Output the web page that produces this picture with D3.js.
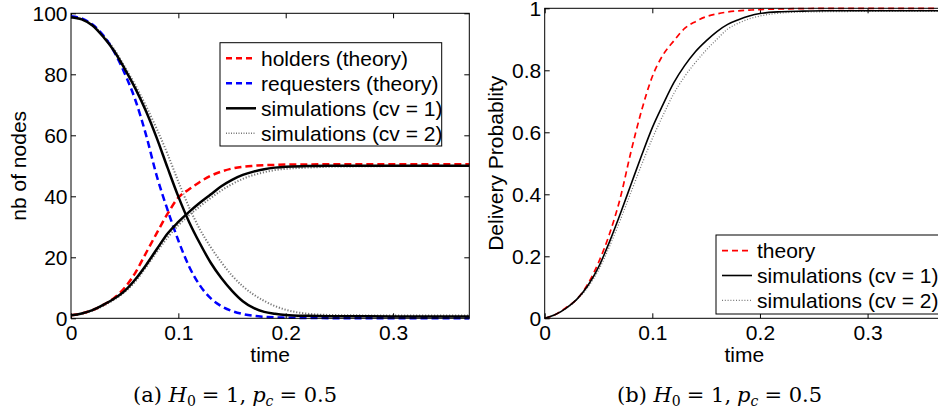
<!DOCTYPE html>
<html>
<head>
<meta charset="utf-8">
<title>holders and requesters</title>
<script src="https://cdnjs.cloudflare.com/ajax/libs/d3/7.8.5/d3.min.js"></script>
<style>
body { margin:0; background:white; }
svg { display:block; }
.tick text, .lbl { font-family:"Liberation Sans", Arial, sans-serif; font-size:21px; fill:black; }
.tick line { stroke:black; }
.cap { font-family:"DejaVu Serif", "Liberation Serif", serif; font-size:21px; fill:black; }
</style>
</head>
<body>
<div id="chart"></div>
<script>
// time grid shared by every curve
var times = [0, 0.01, 0.02, 0.03, 0.04, 0.05, 0.06, 0.07, 0.08, 0.09, 0.10, 0.11, 0.12, 0.13, 0.14,
    0.15, 0.16, 0.17, 0.18, 0.19, 0.20, 0.22, 0.24, 0.26, 0.30, 0.34, 0.371];

// (a) number of nodes
var holdersTheory = [1, 1.6, 2.7, 4.4, 6.6, 10.0, 15.0, 21.5, 28, 34.3, 39.6, 42.3, 44.7, 46.7, 48.1,
    49.1, 49.7, 50.0, 50.2, 50.3, 50.4, 50.45, 50.5, 50.5, 50.5, 50.5, 50.5];
var requestersTheory = [99, 98.3, 96.3, 92.8, 87.5, 80.3, 71.5, 60, 46.5, 35.5, 25.5, 17, 10.8, 6.6, 4.0,
    2.4, 1.4, 0.8, 0.5, 0.3, 0.2, 0.1, 0.05, 0, 0, 0, 0];
var holdersSim1 = [1, 1.6, 2.7, 4.4, 6.4, 9.0, 12.8, 17.5, 22.7, 27.8, 31.6, 34.9, 37.9, 40.6, 43.3,
    45.4, 47.0, 48.1, 48.9, 49.4, 49.7, 49.9, 50, 50, 50, 50, 50];
var requestersSim1 = [98.7, 98, 96, 92.3, 87.7, 81.8, 75.3, 67.8, 59.0, 49.3, 39.9, 31.6, 24.6, 18.3, 13.2,
    9.0, 5.6, 3.4, 2.1, 1.5, 1.1, 0.8, 0.7, 0.7, 0.6, 0.6, 0.6];
var holdersSim2 = [1, 1.5, 2.5, 4.1, 6.1, 8.6, 12.1, 16.8, 21.8, 26.5, 30.5, 33.8, 36.7, 39.4, 41.9,
    44.0, 45.7, 47.0, 47.9, 48.6, 49.0, 49.4, 49.7, 49.8, 49.9, 49.9, 49.9];
var requestersSim2 = [98.7, 98, 96.1, 92.7, 88.3, 82.5, 76.4, 69.5, 62.0, 53.8, 44.8, 36.4, 29.2, 23.4, 18.4,
    14.0, 10.5, 7.8, 5.7, 4.0, 2.8, 1.5, 1.1, 1.0, 0.9, 0.9, 0.9];

// (b) delivery probability
var probTheory = [0, 0.012, 0.035, 0.062, 0.11, 0.18, 0.27, 0.385, 0.535, 0.67, 0.78, 0.85, 0.895, 0.935, 0.957,
    0.973, 0.982, 0.988, 0.992, 0.994, 0.996, 0.998, 0.999, 1, 1, 1, 1];
var probSim1 = [0, 0.012, 0.033, 0.062, 0.105, 0.165, 0.245, 0.335, 0.43, 0.525, 0.615, 0.69, 0.76, 0.815, 0.86,
    0.895, 0.925, 0.948, 0.963, 0.975, 0.983, 0.989, 0.991, 0.992, 0.992, 0.992, 0.992];
var probSim2 = [0, 0.012, 0.032, 0.06, 0.10, 0.155, 0.23, 0.315, 0.405, 0.495, 0.58, 0.655, 0.725, 0.78, 0.825,
    0.865, 0.9, 0.933, 0.952, 0.966, 0.975, 0.985, 0.988, 0.989, 0.99, 0.99, 0.99];

var xTicks = [0, 0.1, 0.2, 0.3];
var nodeTicks = [0, 20, 40, 60, 80, 100];
var probTicks = [0, 0.2, 0.4, 0.6, 0.8, 1];
var legendA = ['holders (theory)', 'requesters (theory)', 'simulations (cv = 1)', 'simulations (cv = 2)'];
var legendB = ['theory', 'simulations (cv = 1)', 'simulations (cv = 2)'];

var svg = d3.select('#chart').append('svg')
    .attr('width', 938)
    .attr('height', 416);

function drawPanel(p) {
    var x = d3.scaleLinear().domain([0, 0.371]).range([p.left, p.left + p.width]);
    var y = d3.scaleLinear().domain([0, p.yMax]).range([p.top + p.height, p.top]);
    var g = svg.append('g');
    var fmt = d3.format('~g');

    // ticks pointing inwards on all four sides, like matlab
    g.append('g').attr('transform', 'translate(0,' + (p.top + p.height) + ')')
        .call(d3.axisBottom(x).tickValues(xTicks).tickFormat(fmt).tickSizeInner(-5).tickSizeOuter(0).tickPadding(7));
    g.append('g').attr('transform', 'translate(0,' + p.top + ')')
        .call(d3.axisTop(x).tickValues(xTicks).tickFormat('').tickSizeInner(-5).tickSizeOuter(0));
    g.append('g').attr('transform', 'translate(' + p.left + ',0)')
        .call(d3.axisLeft(y).tickValues(p.yTicks).tickFormat(fmt).tickSizeInner(-5).tickSizeOuter(0).tickPadding(3.5));
    g.append('g').attr('transform', 'translate(' + (p.left + p.width) + ',0)')
        .call(d3.axisRight(y).tickValues(p.yTicks).tickFormat('').tickSizeInner(-5).tickSizeOuter(0));
    g.selectAll('.domain').remove();
    g.selectAll('.tick text').attr('font-family', null).attr('font-size', null);

    var line = d3.line()
        .x(function(d, i) { return x(times[i]); })
        .y(function(d) { return y(d); })
        .curve(d3.curveMonotoneX);

    p.series.forEach(function(s) {
        g.append('path')
            .attr('d', line(s.values))
            .attr('fill', 'none')
            .attr('stroke', s.color)
            .attr('stroke-width', s.width)
            .attr('stroke-dasharray', s.dash);
    });

    g.append('rect')
        .attr('x', p.left).attr('y', p.top)
        .attr('width', p.width).attr('height', p.height)
        .attr('fill', 'none').attr('stroke', 'black').attr('stroke-width', 1);

    // axis labels
    g.append('text').attr('class', 'lbl')
        .attr('x', p.left + p.width / 2).attr('y', 361.5)
        .attr('text-anchor', 'middle').text('time');
    g.append('text').attr('class', 'lbl')
        .attr('transform', 'translate(' + p.yLabelX + ',' + (p.top + p.height / 2) + ') rotate(-90)')
        .attr('text-anchor', 'middle').text(p.yLabel);

    // legend box
    var lg = p.legend;
    g.append('rect')
        .attr('x', lg.x).attr('y', lg.y).attr('width', lg.w).attr('height', lg.h)
        .attr('fill', 'white').attr('stroke', 'black').attr('stroke-width', 1);
    lg.items.forEach(function(it, i) {
        var cy = lg.y + lg.first + i * lg.step;
        g.append('line')
            .attr('x1', lg.x + 6).attr('x2', lg.x + 36)
            .attr('y1', cy).attr('y2', cy)
            .attr('stroke', it.color).attr('stroke-width', it.width)
            .attr('stroke-dasharray', it.dash);
        g.append('text').attr('class', 'lbl')
            .attr('x', lg.x + 41).attr('y', cy + 7.5)
            .text(it.name);
    });

    // caption under the panel (latex style, wide space round "=")
    var cap = g.append('text').attr('class', 'cap')
        .attr('x', p.capX).attr('y', 401.7);
    cap.append('tspan').text(p.capTag + ' ');
    cap.append('tspan').attr('font-style', 'italic').text('H');
    cap.append('tspan').attr('font-size', 14).attr('dy', 4).text('0');
    cap.append('tspan').attr('dy', -4).attr('dx', 6).text('= 1,');
    cap.append('tspan').attr('font-style', 'italic').attr('dx', 6).text('p');
    cap.append('tspan').attr('font-style', 'italic').attr('font-size', 14).attr('dy', 4).text('c');
    cap.append('tspan').attr('dy', -4).attr('dx', 6).text('= 0.5');
}

var red = { color: '#ff0000', dash: '7,4', width: 2.5 };
var blue = { color: '#0000ff', dash: '7,4', width: 2.5 };
var solid = { color: '#000000', dash: null, width: 2.5 };
var dotted = { color: '#777777', dash: '1.2,1.8', width: 2 };

drawPanel({
    left: 71, top: 13.3, width: 398.3, height: 305,
    yMax: 100, yTicks: nodeTicks,
    yLabel: 'nb of nodes', yLabelX: 26,
    series: [
        { values: holdersSim2, color: dotted.color, dash: dotted.dash, width: dotted.width },
        { values: requestersSim2, color: dotted.color, dash: dotted.dash, width: dotted.width },
        { values: holdersTheory, color: red.color, dash: red.dash, width: red.width },
        { values: requestersTheory, color: blue.color, dash: blue.dash, width: blue.width },
        { values: holdersSim1, color: solid.color, dash: null, width: solid.width },
        { values: requestersSim1, color: solid.color, dash: null, width: solid.width }
    ],
    legend: {
        x: 220, y: 42.7, w: 221.7, h: 103.3, first: 15.6, step: 25,
        items: [
            { name: legendA[0], color: red.color, dash: '6,4', width: 2.5 },
            { name: legendA[1], color: blue.color, dash: '6,4', width: 2.5 },
            { name: legendA[2], color: solid.color, dash: null, width: 2.5 },
            { name: legendA[3], color: dotted.color, dash: '1,1.5', width: 1.5 }
        ]
    },
    capTag: '(a)', capX: 133
});

drawPanel({
    left: 544.7, top: 8.3, width: 399.3, height: 310,
    yMax: 1, yTicks: probTicks,
    yLabel: 'Delivery Probablity', yLabelX: 503,
    series: [
        { values: probSim2, color: '#777777', dash: '1,1.8', width: 1.3 },
        { values: probTheory, color: '#ff0000', dash: '6,4', width: 1.7 },
        { values: probSim1, color: '#000000', dash: null, width: 1.6 }
    ],
    legend: {
        x: 716, y: 235, w: 240, h: 79, first: 15.7, step: 24.8,
        items: [
            { name: legendB[0], color: '#ff0000', dash: '6,4', width: 1.7 },
            { name: legendB[1], color: '#000000', dash: null, width: 1.6 },
            { name: legendB[2], color: '#777777', dash: '1,1.8', width: 1.2 }
        ]
    },
    capTag: '(b)', capX: 617
});
</script>
</body>
</html>
